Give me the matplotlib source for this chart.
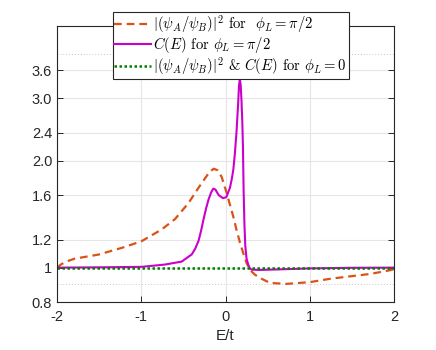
import matplotlib
matplotlib.use("Agg")
import matplotlib.pyplot as plt
from matplotlib.ticker import FixedLocator, FixedFormatter, NullFormatter

plt.rcParams['mathtext.fontset'] = 'cm'
plt.rcParams['font.family'] = ['Liberation Sans', 'DejaVu Sans']

# |psi_A/psi_B|^2 for phi_L = pi/2
E_psi = [-2.0, -1.95, -1.88, -1.79, -1.51, -1.23, -1.0, -0.76, -0.6, -0.44, -0.32, -0.24,
         -0.19, -0.14, -0.09, -0.045, 0.015, 0.054, 0.09, 0.13, 0.17, 0.21, 0.25, 0.3,
         0.35, 0.41, 0.53, 0.73, 1.0, 1.24, 1.48, 1.72, 1.95, 2.0]
psi = [1.0, 1.022, 1.042, 1.06, 1.088, 1.137, 1.186, 1.28, 1.37, 1.52, 1.68, 1.79,
       1.86, 1.90, 1.88, 1.80, 1.62, 1.50, 1.40, 1.28, 1.18, 1.10, 1.03, 0.98,
       0.955, 0.935, 0.905, 0.90, 0.91, 0.93, 0.945, 0.96, 0.983, 0.99]

# C(E) for phi_L = pi/2
E_C = [-2.0, -1.5, -1.0, -0.72, -0.52, -0.4, -0.36, -0.32, -0.29, -0.26, -0.23,
       -0.2, -0.17, -0.145, -0.12, -0.08, -0.03, 0.01, 0.053, 0.075, 0.093, 0.11, 0.13,
       0.15, 0.16, 0.17, 0.18, 0.19, 0.2, 0.207, 0.215, 0.225, 0.235, 0.25, 0.27, 0.29,
       0.31, 0.4, 0.6, 1.0, 1.5, 2.0]
C = [1.0, 1.002, 1.005, 1.02, 1.04, 1.09, 1.13, 1.19, 1.27, 1.37, 1.47,
     1.56, 1.63, 1.67, 1.66, 1.60, 1.57, 1.58, 1.68, 1.78, 1.89, 2.08, 2.40,
     2.9, 3.25, 3.40, 3.28, 2.95, 2.55, 2.2, 1.65, 1.32, 1.15, 1.06, 1.02, 0.995,
     0.987, 0.985, 0.988, 0.995, 0.999, 1.0]

# phi_L = 0 (both quantities)
E_0 = [-2.0, 2.0]
v_0 = [1.0, 1.0]

yticks = [0.8, 1, 1.2, 1.6, 2.0, 2.4, 3.0, 3.6]
ytick_labels = ['0.8', '1', '1.2', '1.6', '2.0', '2.4', '3.0', '3.6']
xticks = [-2, -1, 0, 1, 2]
xtick_labels = ['-2', '-1', '0', '1', '2']
minor_grid = [0.9, 4.0]

labels = [r'$|(\psi_A/\psi_B)|^2$ for  $\phi_L=\pi/2$',
          r'$C(E)$ for $\phi_L=\pi/2$',
          r'$|(\psi_A/\psi_B)|^2$ & $C(E)$ for $\phi_L=0$']

fig = plt.figure(figsize=(4.36, 3.5), dpi=100)
ax = fig.add_axes([57/436, 1-302/350, (394-57)/436, (302-26)/350])

ax.set_yscale('log')
ax.set_xlim(-2, 2)
ax.set_ylim(0.8, 4.8)

gc = '#262626'
ax.yaxis.set_major_locator(FixedLocator(yticks))
ax.yaxis.set_major_formatter(FixedFormatter(ytick_labels))
ax.yaxis.set_minor_locator(FixedLocator([]))
ax.yaxis.set_minor_formatter(NullFormatter())
ax.set_xticks(xticks)
ax.set_xticklabels(xtick_labels)

ax.grid(True, which='major', color='#e6e6e6', linewidth=0.8, linestyle='-')
for m in minor_grid:
    ax.axhline(m, color='#c8c8c8', linewidth=0.7, linestyle=(0, (1, 2)), zorder=0.5)
ax.set_axisbelow(True)

l1, = ax.plot(E_psi, psi, color='#D95319', linewidth=1.6, linestyle=(0, (3.5, 2.2)))
l2, = ax.plot(E_C, C, color='#CC00CC', linewidth=1.5)
l3, = ax.plot(E_0, v_0, color='#008000', linewidth=1.8, linestyle=(0, (1, 1)))

for s in ax.spines.values():
    s.set_color(gc)
    s.set_linewidth(0.8)
ax.tick_params(which='both', direction='in', top=True, right=True, length=4,
               width=0.7, color=gc, labelcolor=gc, labelsize=10.5)
ax.tick_params(axis='x', pad=6)
ax.set_xlabel('E/t', fontsize=11, color=gc, labelpad=3)

leg = fig.legend([l1, l2, l3], labels, loc='upper left',
                 bbox_to_anchor=(113/436, 1-12/350),
                 prop={'family': ['cmr10', 'DejaVu Serif'], 'size': 10.6},
                 frameon=True, fancybox=False, framealpha=1, edgecolor=gc,
                 handlelength=2.5, handletextpad=0.15, labelspacing=0.0,
                 borderpad=0.1, borderaxespad=0)
leg.get_frame().set_linewidth(0.8)

fig.savefig('out.png', dpi=100)
